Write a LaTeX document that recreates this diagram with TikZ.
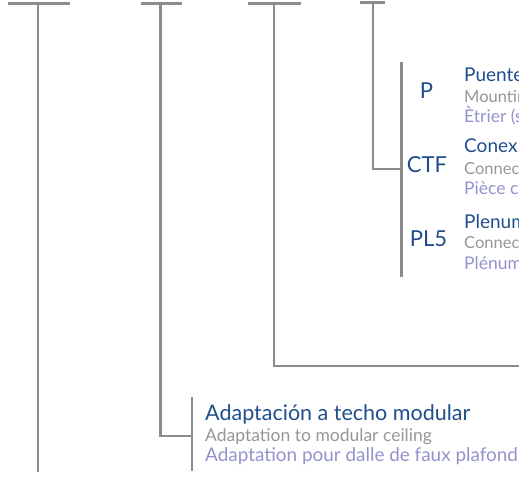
\documentclass[tikz,border=0pt]{standalone}
\usepackage{fontspec}
\setmainfont{Lato}
\definecolor{ln}{HTML}{8C8C8C}
\definecolor{es}{HTML}{1F4E8C}
\definecolor{en}{HTML}{969696}
\definecolor{fr}{HTML}{9293CC}
\tikzset{
  rail/.style={draw=ln,line width=2.3pt},
  code/.style={text=es,font=\fontsize{22}{24}\selectfont,inner sep=0pt,anchor=center},
  lblbase/.style={inner sep=0pt,anchor=base west},
  eslbl/.style={lblbase,text=es,font=\fontsize{19}{21}\selectfont},
  enlbl/.style={lblbase,text=en,font=\fontsize{16.5}{18}\selectfont},
  frlbl/.style={lblbase,text=fr,font=\fontsize{17.5}{19}\selectfont},
  eslbll/.style={lblbase,text=es,font=\fontsize{21.5}{23}\selectfont},
  enlbll/.style={lblbase,text=en,font=\fontsize{17.5}{19}\selectfont},
  frlbll/.style={lblbase,text=fr,font=\fontsize{18.9}{21}\selectfont},
}
\begin{document}
\begin{tikzpicture}[x=1pt,y=-1pt]
\useasboundingbox (0,0) rectangle (519,480);
\clip (0,0) rectangle (519,480);
% coordinates
\coordinate (a1) at (8,3.5); \coordinate (a2) at (70,3.5);
\coordinate (at) at (38,3.5); \coordinate (ab) at (38,472);
\coordinate (b1) at (141,3.5); \coordinate (b2) at (182,3.5);
\coordinate (bt) at (160.5,3.5); \coordinate (bk) at (160.5,436);
\coordinate (c1) at (248,3.5); \coordinate (c2) at (301,3.5);
\coordinate (ct) at (274,3.5); \coordinate (ck) at (274,366); \coordinate (ce) at (519,366);
\coordinate (d1) at (360,2.5); \coordinate (d2) at (385,2.5);
\coordinate (dt) at (373,2.5); \coordinate (dk) at (373,169);
\coordinate (vt) at (401.5,62); \coordinate (vm) at (401.5,169); \coordinate (vb) at (401.5,277);
\coordinate (mt) at (192,397); \coordinate (mm) at (192,436); \coordinate (mb) at (192,471);
% rails
\draw[rail] (a1) -- (a2);
\draw[rail] (at) -- (ab);
\draw[rail] (b1) -- (b2);
\draw[rail] (bt) -- (bk) -- (mm);
\draw[rail] (mt) -- (mb);
\draw[rail] (c1) -- (c2);
\draw[rail] (ct) -- (ck) -- (ce);
\draw[rail] (d1) -- (d2);
\draw[rail] (dt) -- (dk) -- (vm);
\draw[rail] (vt) -- (vb);
% codes
\node[code] (p) at (426.5,91) {P};
\node[code] (ctf) at (427,164.5) {CTF};
\node[code] (pl) at (428.5,238.5) {PL5};
% labels
\node[eslbl] (l1) at (464,81) {Puente};
\node[enlbl] (l2) at (464,102) {Mounting};
\node[frlbl] (l3) at (464,122.5) {Ètrier (s};
\node[eslbl] (l4) at (464,152.5) {Conex};
\node[enlbl] (l5) at (464,174) {Connec};
\node[frlbl] (l6) at (464,194) {Pièce c};
\node[eslbl] (l7) at (464,228) {Plenum};
\node[enlbl] (l8) at (464,248.5) {Connec};
\node[frlbl] (l9) at (464,269.5) {Plénum};
\node[eslbll] (m1) at (205,420) {Adaptación a techo modular};
\node[enlbll] (m2) at (205,441) {Adaptation to modular ceiling};
\node[frlbll] (m3) at (205,461.5) {Adaptation pour dalle de faux plafond};
\end{tikzpicture}
\end{document}
